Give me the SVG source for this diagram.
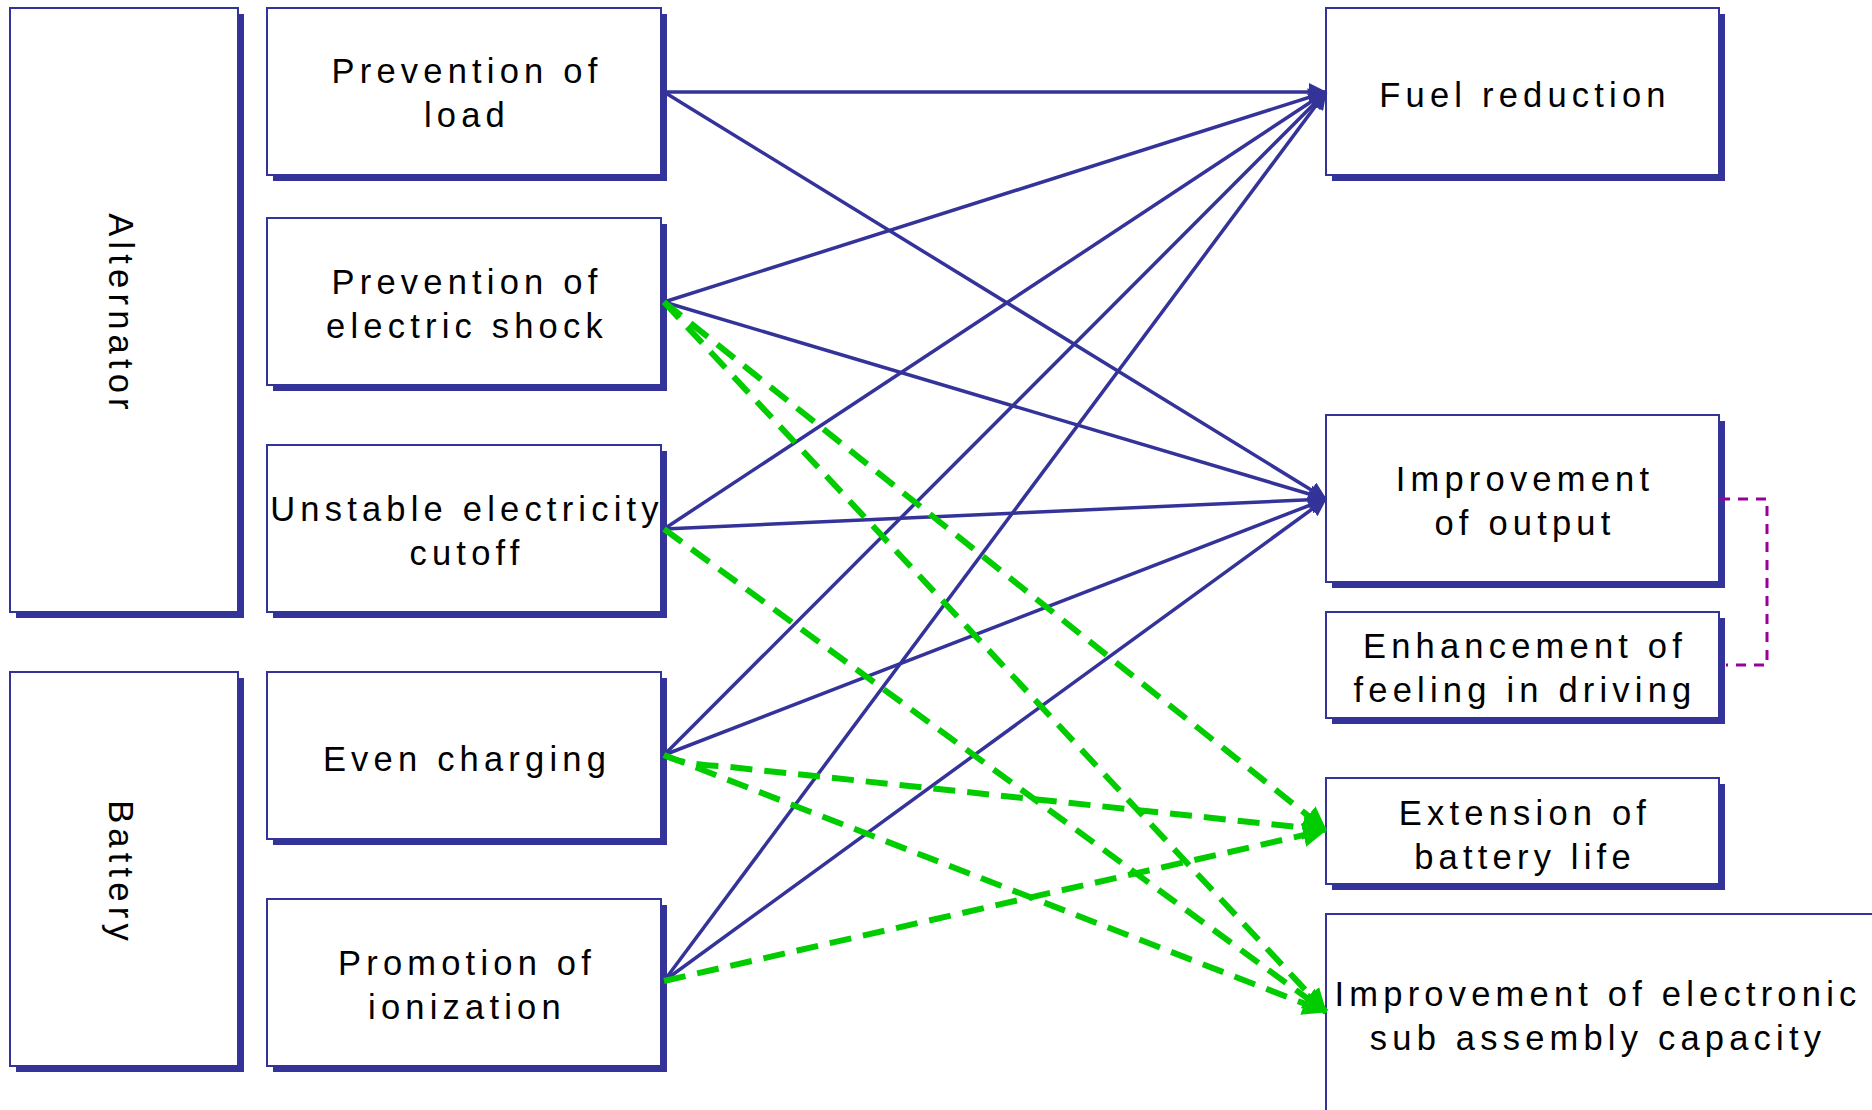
<svg xmlns="http://www.w3.org/2000/svg" width="1872" height="1110" viewBox="0 0 1872 1110">
  <style>
    .shadow { fill: #333399; }
    .box { fill: #ffffff; stroke: #333399; stroke-width: 2; }
    .label { font-family: "Liberation Sans", Arial, sans-serif; font-size: 34.5px; letter-spacing: 5.2px; fill: #000000; text-anchor: middle; }
    .solid { stroke: #333399; stroke-width: 3.5; fill: none; marker-end: url(#arrowBlue); }
    .dashed { stroke: #00cc00; stroke-width: 6; fill: none; stroke-dasharray: 22 12; marker-end: url(#arrowGreen); }
    .bracket { stroke: #990099; stroke-width: 3; fill: none; stroke-dasharray: 10 8; }
  </style>
  <defs>
    <marker id="arrowBlue" markerUnits="userSpaceOnUse" viewBox="0 0 18 18" refX="17" refY="9" markerWidth="18" markerHeight="18" orient="auto">
      <path d="M0,0 L18,9 L0,18 z" fill="#333399"/>
    </marker>
    <marker id="arrowGreen" markerUnits="userSpaceOnUse" viewBox="0 0 24 24" refX="23" refY="12" markerWidth="24" markerHeight="24" orient="auto">
      <path d="M0,0 L24,12 L0,24 z" fill="#00cc00"/>
    </marker>
  </defs>
  <rect width="1872" height="1110" fill="#ffffff"/>

  <!-- group boxes on the far left -->
  <g id="alternator">
    <rect class="shadow" x="16" y="14" width="228" height="604"/>
    <rect class="box" x="10" y="8" width="228" height="604"/>
    <text class="label" transform="translate(109,311) rotate(90)" x="3">Alternator</text>
  </g>
  <g id="battery">
    <rect class="shadow" x="16" y="678" width="228" height="394"/>
    <rect class="box" x="10" y="672" width="228" height="394"/>
    <text class="label" transform="translate(109,870) rotate(90)" x="3">Battery</text>
  </g>

  <!-- measures -->
  <g id="prevention-load">
    <rect class="shadow" x="273" y="14" width="394" height="167"/>
    <rect class="box" x="267" y="8" width="394" height="167"/>
    <text class="label" x="467" y="83">Prevention of</text>
    <text class="label" x="467" y="127">load</text>
  </g>
  <g id="prevention-shock">
    <rect class="shadow" x="273" y="224" width="394" height="167"/>
    <rect class="box" x="267" y="218" width="394" height="167"/>
    <text class="label" x="467" y="294">Prevention of</text>
    <text class="label" x="467" y="338">electric shock</text>
  </g>
  <g id="unstable-cutoff">
    <rect class="shadow" x="273" y="451" width="394" height="167"/>
    <rect class="box" x="267" y="445" width="394" height="167"/>
    <text class="label" x="467" y="521">Unstable electricity</text>
    <text class="label" x="467" y="565">cutoff</text>
  </g>
  <g id="even-charging">
    <rect class="shadow" x="273" y="678" width="394" height="167"/>
    <rect class="box" x="267" y="672" width="394" height="167"/>
    <text class="label" x="467" y="771">Even charging</text>
  </g>
  <g id="promotion-ionization">
    <rect class="shadow" x="273" y="905" width="394" height="167"/>
    <rect class="box" x="267" y="899" width="394" height="167"/>
    <text class="label" x="467" y="975">Promotion of</text>
    <text class="label" x="467" y="1019">ionization</text>
  </g>

  <!-- effects -->
  <g id="fuel-reduction">
    <rect class="shadow" x="1332" y="14" width="393" height="167"/>
    <rect class="box" x="1326" y="8" width="393" height="167"/>
    <text class="label" x="1525" y="107">Fuel reduction</text>
  </g>
  <g id="output">
    <rect class="shadow" x="1332" y="421" width="393" height="167"/>
    <rect class="box" x="1326" y="415" width="393" height="167"/>
    <text class="label" x="1525" y="491">Improvement</text>
    <text class="label" x="1525" y="535">of output</text>
  </g>
  <g id="driving-feel">
    <rect class="shadow" x="1332" y="618" width="393" height="106"/>
    <rect class="box" x="1326" y="612" width="393" height="106"/>
    <text class="label" x="1525" y="658">Enhancement of</text>
    <text class="label" x="1525" y="702">feeling in driving</text>
  </g>
  <g id="battery-life">
    <rect class="shadow" x="1332" y="784" width="393" height="106"/>
    <rect class="box" x="1326" y="778" width="393" height="106"/>
    <text class="label" x="1525" y="825">Extension of</text>
    <text class="label" x="1525" y="869">battery life</text>
  </g>
  <g id="electronic-capacity">
    <rect class="box" x="1326" y="914" width="560" height="210"/>
    <text class="label" x="1598" y="1006">Improvement of electronic</text>
    <text class="label" x="1598" y="1050">sub assembly capacity</text>
  </g>

  <g id="connectors">
    <!-- to Fuel reduction -->
    <line class="solid" x1="664" y1="92" x2="1326" y2="92"/>
    <line class="solid" x1="664" y1="302" x2="1326" y2="92"/>
    <line class="solid" x1="664" y1="529" x2="1326" y2="92"/>
    <line class="solid" x1="664" y1="755" x2="1326" y2="92"/>
    <line class="solid" x1="664" y1="981" x2="1326" y2="92"/>
    <!-- to Improvement of output -->
    <line class="solid" x1="664" y1="92" x2="1326" y2="499"/>
    <line class="solid" x1="664" y1="302" x2="1326" y2="499"/>
    <line class="solid" x1="664" y1="529" x2="1326" y2="499"/>
    <line class="solid" x1="664" y1="755" x2="1326" y2="499"/>
    <line class="solid" x1="664" y1="981" x2="1326" y2="499"/>
    <!-- to Extension of battery life -->
    <line class="dashed" x1="664" y1="302" x2="1326" y2="830"/>
    <path class="dashed" d="M664,755 Q680,764 720,766 L1326,830"/>
    <line class="dashed" x1="664" y1="981" x2="1326" y2="830"/>
    <!-- to electronic sub assembly capacity -->
    <line class="dashed" x1="664" y1="302" x2="1326" y2="1012"/>
    <line class="dashed" x1="664" y1="529" x2="1326" y2="1012"/>
    <line class="dashed" x1="664" y1="755" x2="1326" y2="1012"/>
    <!-- output / driving feel link -->
    <path class="bracket" d="M1720,499 H1767 V665 H1726"/>
  </g>
</svg>
